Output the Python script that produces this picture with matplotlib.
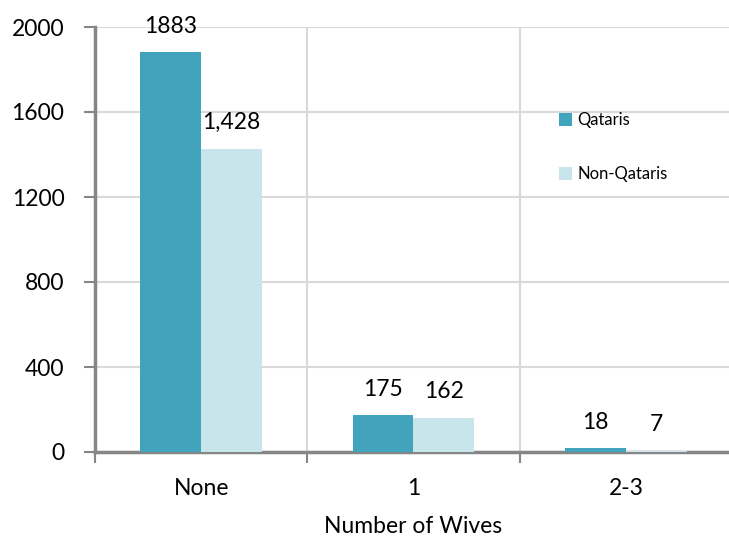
import numpy as np
import matplotlib.pyplot as plt

categories = ["None", "1", "2-3"]
qataris = [1883, 175, 18]
non_qataris = [1428, 162, 7]
qataris_labels = ["1883", "175", "18"]
non_qataris_labels = ["1,428", "162", "7"]

plt.rcParams['font.family'] = ['Lato', 'DejaVu Sans']

fig = plt.figure(figsize=(7.29, 5.37), dpi=100)
ax = fig.add_axes([95 / 729, 1 - 452 / 537, (732 - 95) / 729, (452 - 27) / 537])

x = np.arange(len(categories))
w = 0.287
c1 = '#41a3bc'
c2 = '#c8e5ec'
b1 = ax.bar(x - w / 2, qataris, w, color=c1, label='Qataris', zorder=3)
b2 = ax.bar(x + w / 2, non_qataris, w, color=c2, label='Non-Qataris', zorder=3)

for rect, txt in zip(b1, qataris_labels):
    ax.annotate(txt, (rect.get_x() + rect.get_width() / 2, rect.get_height()),
                xytext=(0, 11), textcoords='offset points', ha='center', va='bottom', fontsize=16.5)
for rect, txt in zip(b2, non_qataris_labels):
    ax.annotate(txt, (rect.get_x() + rect.get_width() / 2, rect.get_height()),
                xytext=(0, 11), textcoords='offset points', ha='center', va='bottom', fontsize=16.5)

ax.set_xlim(-0.5, 2.5)
ax.set_ylim(0, 2000)
ax.set_yticks(range(0, 2001, 400))
ax.set_xticks(x)
ax.set_xticklabels(categories)
ax.set_xticks([-0.5, 0.5, 1.5, 2.5], minor=True)
ax.tick_params(axis='x', which='major', length=0, pad=19, labelsize=16.5)
ax.tick_params(axis='x', which='minor', length=8, width=1.5, color='#868686')
ax.tick_params(axis='y', length=8, width=1.5, color='#868686', labelsize=16.5, pad=14)

ax.grid(axis='y', color='#d9d9d9', lw=1.5, zorder=0)
ax.grid(axis='x', which='minor', color='#d9d9d9', lw=1.5, zorder=0)
for s in ['top', 'right']:
    ax.spines[s].set_visible(False)
for s in ['left', 'bottom']:
    ax.spines[s].set_color('#868686')
    ax.spines[s].set_linewidth(2.5)

ax.set_xlabel('Number of Wives', fontsize=16.5, labelpad=12)

ax.legend(loc='upper left', bbox_to_anchor=(0.705, 0.835), frameon=False, fontsize=12,
          handlelength=0.8, handleheight=0.8, handletextpad=0.3, labelspacing=2.3)

fig.savefig('out.png', dpi=100)
